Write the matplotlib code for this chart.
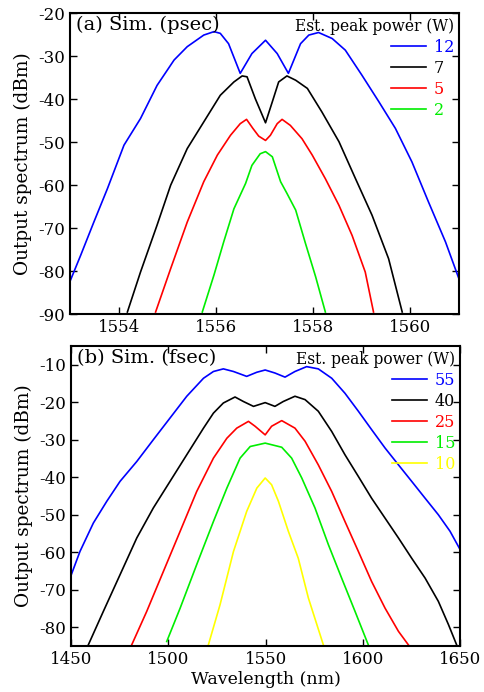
import matplotlib
matplotlib.use("Agg")
import matplotlib.pyplot as plt

plt.rcParams['font.family'] = ['DejaVu Serif']
plt.rcParams['axes.unicode_minus'] = False

# (a) picosecond pulses, wavelength (nm) / spectrum (dBm)
a12_x = [1553.01, 1553.22, 1553.49, 1553.77, 1554.11, 1554.45, 1554.79, 1555.14, 1555.41, 1555.75,
         1555.96, 1556.09, 1556.26, 1556.5, 1556.74, 1557.02, 1557.26, 1557.49, 1557.74, 1557.91,
         1558.11, 1558.39, 1558.66, 1559.0, 1559.35, 1559.69, 1560.03, 1560.37, 1560.72, 1561.02]
a12_y = [-82.1, -76.3, -68.6, -60.8, -50.7, -44.5, -36.8, -30.9, -27.8, -25.1,
         -24.3, -24.7, -27.1, -34.0, -29.4, -26.3, -29.4, -34.0, -27.1, -25.1,
         -24.5, -25.9, -28.6, -34.4, -40.6, -46.8, -54.6, -63.9, -73.2, -82.5]
a7_x = [1554.18, 1554.45, 1554.79, 1555.07, 1555.41, 1555.75, 1556.09, 1556.37, 1556.54, 1556.64,
        1556.81, 1557.02, 1557.16, 1557.29, 1557.46, 1557.64, 1557.88, 1558.18, 1558.53, 1558.87,
        1559.21, 1559.55, 1559.83]
a7_y = [-89.5, -80.2, -69.3, -60.0, -51.5, -45.3, -39.1, -36.0, -34.6, -34.8,
        -39.9, -45.5, -40.6, -36.0, -34.6, -35.6, -37.5, -43.0, -49.9, -58.5,
        -67.0, -77.1, -89.5]
a5_x = [1554.76, 1555.07, 1555.41, 1555.75, 1556.03, 1556.3, 1556.5, 1556.63, 1556.76, 1556.88,
        1557.02, 1557.12, 1557.26, 1557.36, 1557.53, 1557.77, 1557.98, 1558.25, 1558.53, 1558.8,
        1559.07, 1559.24]
a5_y = [-89.5, -79.4, -68.6, -59.2, -53.0, -48.4, -45.7, -44.7, -46.8, -48.6,
        -49.6, -48.4, -45.7, -44.7, -46.1, -49.2, -53.0, -58.5, -64.7, -71.7,
        -80.2, -89.5]
a2_x = [1555.72, 1555.96, 1556.16, 1556.37, 1556.61, 1556.74, 1556.91, 1557.02, 1557.16, 1557.33,
        1557.46, 1557.64, 1557.84, 1558.05, 1558.25]
a2_y = [-89.5, -80.9, -73.2, -65.5, -59.6, -55.4, -52.7, -52.2, -53.4, -59.2,
        -61.9, -65.8, -73.5, -81.3, -89.5]

# (b) femtosecond pulses
b55_x = [1449.5, 1454.6, 1461.5, 1468.4, 1475.2, 1483.8, 1492.3, 1500.9, 1509.5, 1518.1,
         1523.2, 1528.3, 1533.5, 1540.3, 1545.5, 1549.8, 1554.8, 1560.0, 1565.1, 1571.1,
         1577.1, 1584.0, 1590.8, 1597.7, 1604.5, 1611.4, 1618.3, 1625.1, 1632.0, 1638.8,
         1644.8, 1650.0]
b55_y = [-66.9, -59.8, -52.2, -46.4, -41.1, -35.8, -30.0, -24.2, -18.4, -13.6,
         -11.8, -11.1, -11.8, -13.1, -12.0, -11.4, -12.2, -13.3, -11.8, -10.5,
         -11.1, -13.6, -17.6, -22.4, -27.3, -32.2, -36.7, -41.1, -45.6, -50.0,
         -54.4, -59.3]
b40_x = [1458.9, 1466.6, 1475.2, 1483.8, 1492.3, 1500.9, 1509.5, 1518.1, 1523.2, 1528.3,
         1534.3, 1538.6, 1543.8, 1549.8, 1554.8, 1559.1, 1565.1, 1570.3, 1577.1, 1584.0,
         1590.8, 1597.7, 1604.5, 1611.4, 1618.3, 1625.1, 1632.0, 1638.8, 1644.0, 1648.2]
b40_y = [-84.7, -75.8, -66.0, -56.2, -48.2, -41.1, -34.0, -26.9, -22.9, -20.2,
         -18.6, -19.8, -21.1, -20.1, -21.1, -19.8, -18.4, -19.3, -22.4, -27.8,
         -34.0, -39.8, -45.6, -50.9, -56.2, -61.6, -66.9, -73.1, -79.3, -84.7]
b25_x = [1481.2, 1488.9, 1497.5, 1506.1, 1514.6, 1523.2, 1530.1, 1535.2, 1541.2, 1544.6,
         1549.8, 1553.1, 1558.3, 1565.1, 1570.3, 1577.1, 1584.0, 1590.8, 1597.7, 1604.5,
         1611.4, 1618.3, 1623.4]
b25_y = [-84.7, -75.8, -65.1, -54.4, -43.8, -34.9, -29.6, -26.9, -25.1, -26.4,
         -28.7, -26.4, -24.9, -26.9, -30.4, -36.7, -43.8, -51.8, -59.8, -67.8,
         -74.9, -81.1, -84.7]
b15_x = [1499.2, 1506.1, 1514.6, 1523.2, 1530.1, 1536.9, 1542.1, 1549.8, 1558.3, 1563.4,
         1568.6, 1575.4, 1582.3, 1589.1, 1596.0, 1602.8]
b15_y = [-83.8, -74.9, -63.3, -51.8, -42.9, -34.9, -31.8, -30.9, -32.0, -34.9,
         -40.2, -48.2, -58.0, -66.9, -75.8, -84.7]
b10_x = [1520.6, 1526.6, 1533.5, 1540.3, 1545.5, 1549.8, 1553.1, 1556.6, 1561.7, 1566.8,
         1572.0, 1579.7]
b10_y = [-84.7, -74.0, -59.8, -49.1, -42.9, -40.2, -42.0, -46.4, -54.4, -61.6,
         -72.2, -84.7]

a_series = [(a12_x, a12_y, '12', '#0000ff'), (a7_x, a7_y, '7', '#000000'),
            (a5_x, a5_y, '5', '#ff0000'), (a2_x, a2_y, '2', '#00ee00')]
b_series = [(b55_x, b55_y, '55', '#0000ff'), (b40_x, b40_y, '40', '#000000'),
            (b25_x, b25_y, '25', '#ff0000'), (b15_x, b15_y, '15', '#00ee00'),
            (b10_x, b10_y, '10', '#ffff00')]

fig = plt.figure(figsize=(4.84, 6.92), dpi=100)
ax1 = fig.add_axes([0.1446, 0.546, 0.804, 0.435])
ax2 = fig.add_axes([0.1467, 0.0665, 0.804, 0.4335])


def style(ax, series, tag):
    for x, y, lab, c in series:
        ax.plot(x, y, color=c, lw=1.2, label=lab)
    ax.tick_params(direction='in', top=True, right=True, labelsize=12, length=5, width=1)
    for s in ax.spines.values():
        s.set_linewidth(1.5)
    ax.set_ylabel('Output spectrum (dBm)', fontsize=13.3, labelpad=4.5)
    ax.text(0.015, 0.99, tag, transform=ax.transAxes, ha='left', va='top', fontsize=14)
    leg = ax.legend(loc='upper right', frameon=False, fontsize=11.5, title='Est. peak power (W)',
                    title_fontsize=11.2, handlelength=2.2, handletextpad=0.5,
                    labelspacing=0.25, borderaxespad=0.1, borderpad=0.2)
    leg._legend_box.align = 'right'
    for t, (_, _, _, c) in zip(leg.get_texts(), series):
        t.set_color(c)


style(ax1, a_series, '(a) Sim. (psec)')
ax1.set_xlim(1553, 1561)
ax1.set_ylim(-90, -20)
ax1.set_xticks([1554, 1556, 1558, 1560])

style(ax2, b_series, '(b) Sim. (fsec)')
ax2.set_xlim(1450, 1650)
ax2.set_ylim(-85, -5)
ax2.set_yticks([-80, -70, -60, -50, -40, -30, -20, -10])
ax2.set_xlabel('Wavelength (nm)', fontsize=12.5, labelpad=2)

fig.savefig('out.png', dpi=100)
